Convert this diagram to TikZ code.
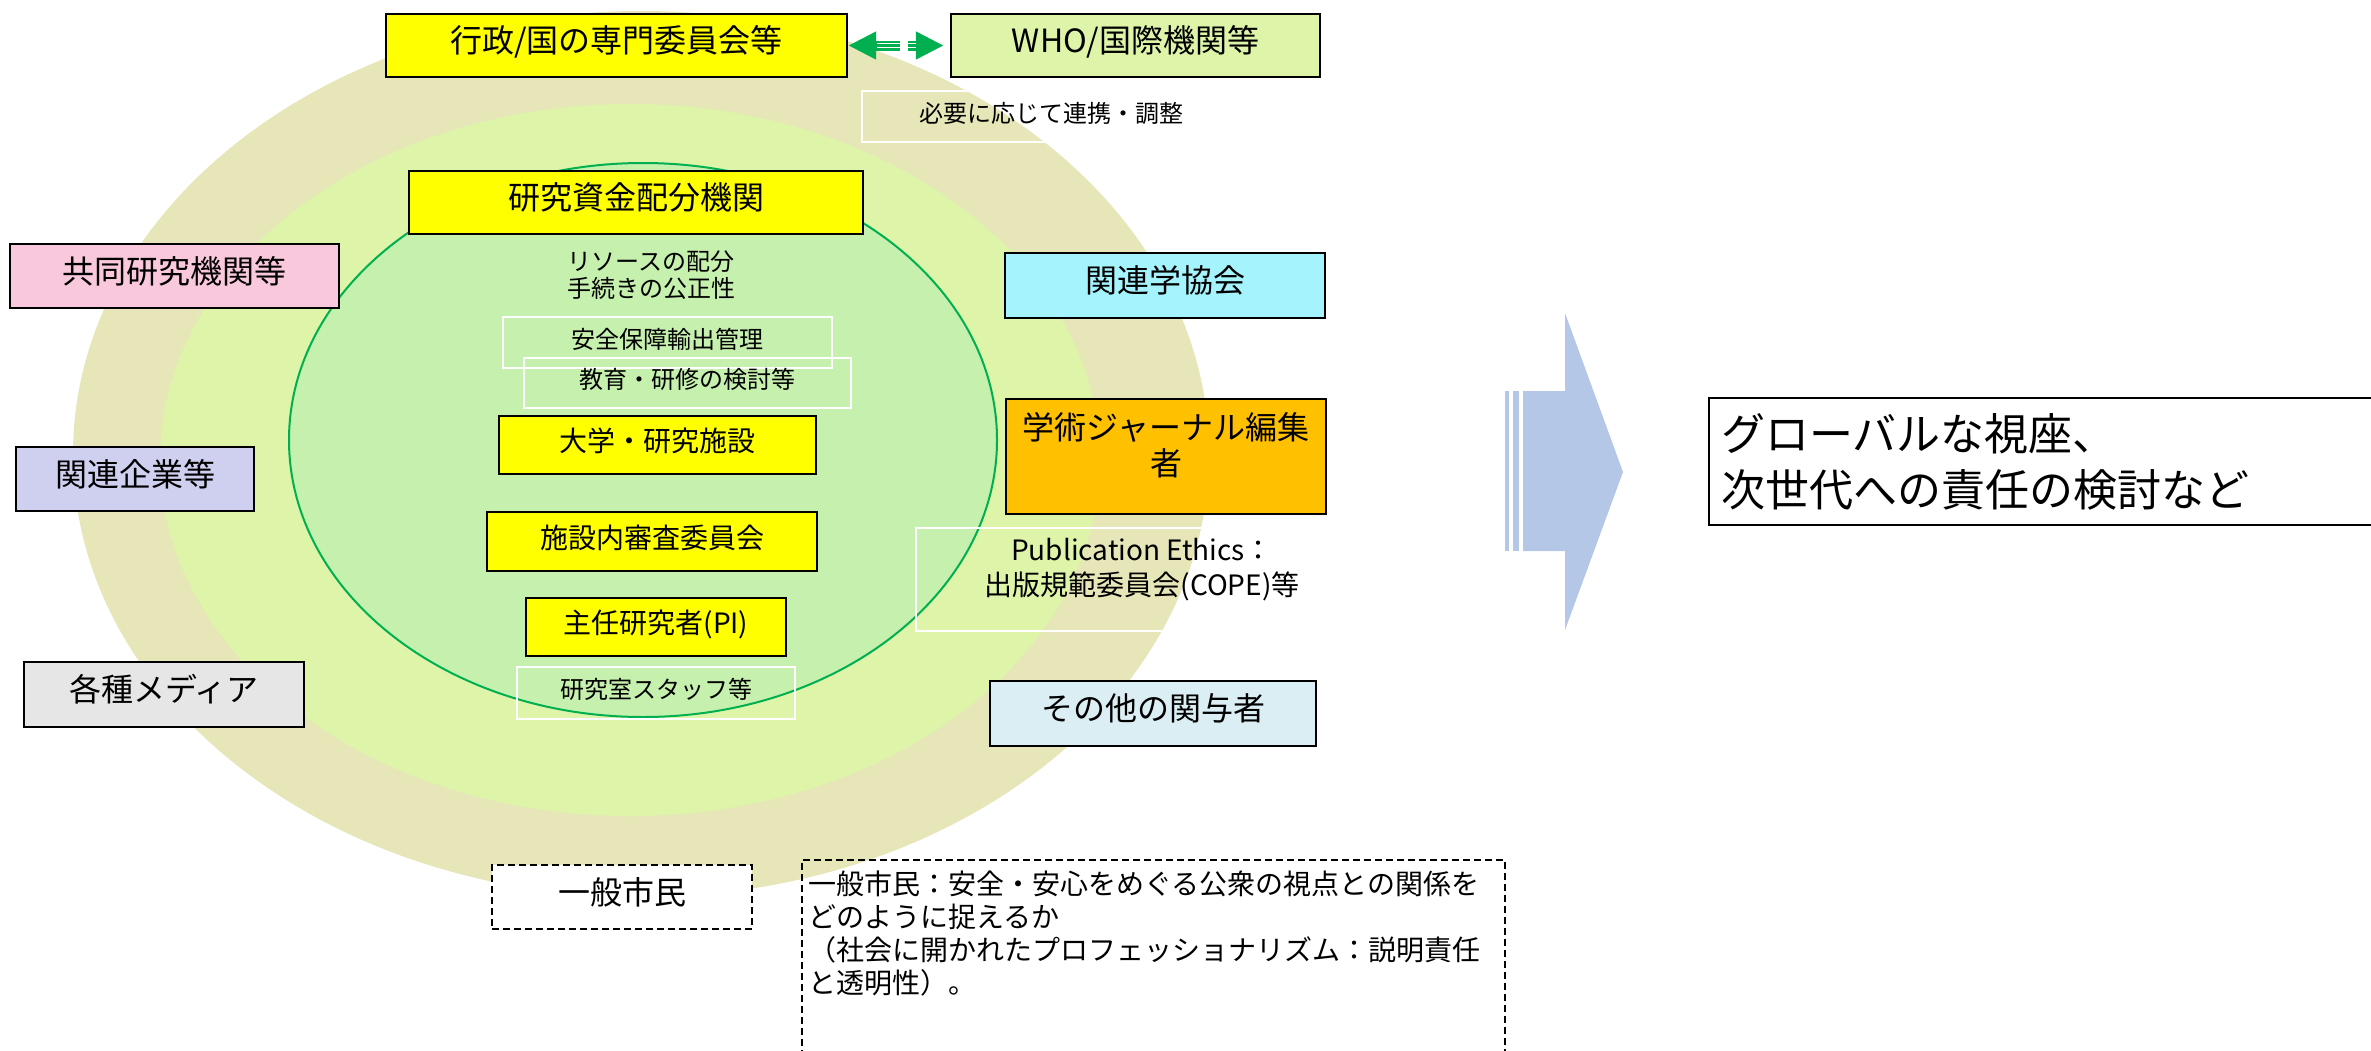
\documentclass[tikz,border=0pt]{standalone}
\usepackage{fontspec}
\setmainfont{Noto Sans CJK JP}
\usetikzlibrary{arrows.meta}
\definecolor{cKhaki}{HTML}{E6E6B9}
\definecolor{cMid}{HTML}{DDF4A9}
\definecolor{cInner}{HTML}{C6F0AE}
\definecolor{cGreen}{HTML}{00B050}
\definecolor{cYellow}{HTML}{FFFF00}
\definecolor{cWho}{HTML}{DDF4A9}
\definecolor{cPink}{HTML}{F9C8DC}
\definecolor{cLav}{HTML}{CFD0EF}
\definecolor{cGray}{HTML}{E6E6E6}
\definecolor{cCyan}{HTML}{A5F3FC}
\definecolor{cOrange}{HTML}{FFC000}
\definecolor{cPale}{HTML}{DBEEF3}
\definecolor{cArrow}{HTML}{B4C7E7}
\tikzset{
  box/.style={draw=black, line width=1.1pt, inner sep=0pt},
  wbox/.style={draw=white, line width=0.9pt, inner sep=0pt},
  dbox/.style={draw=black, line width=1pt, dash pattern=on 3.5pt off 2pt, inner sep=0pt},
  fA/.style={font=\fontsize{16pt}{19pt}\selectfont, text height=12pt, text depth=5pt},
  fB/.style={font=\fontsize{14pt}{17pt}\selectfont, text height=10.5pt, text depth=3.9pt},
  fC/.style={font=\fontsize{12pt}{14pt}\selectfont, text height=8.5pt, text depth=2.9pt},
  garrow/.style={draw=cGreen, line width=5pt, -{Triangle[length=14pt,width=13pt]}},
  gstripe/.style={draw=white, line width=0.6pt}
}
\begin{document}
\begin{tikzpicture}[x=0.5pt,y=-0.5pt]
\useasboundingbox (0,0) rectangle (2371,1050);
\clip (0,0) rectangle (2371,1050);

% concentric ellipses
\fill[cKhaki] (641,454) ellipse [x radius=284pt, y radius=221.5pt];
\fill[cMid] (630,460) ellipse [x radius=235pt, y radius=178pt];
\filldraw[fill=cInner, draw=cGreen, line width=1pt] (643,440) ellipse [x radius=177pt, y radius=138.5pt];

% top row
\node[box, fA, fill=cYellow, minimum width=230.5pt, minimum height=31.5pt] (gyosei) at (616.5,45.5) {行政/国の専門委員会等};
\node[box, fA, fill=cWho, minimum width=184.5pt, minimum height=31.5pt] (who) at (1135.5,45.5) {WHO/国際機関等};
\node[wbox, fC, minimum width=189pt, minimum height=25.5pt] (renkei) at (1051,116.5) {必要に応じて連携・調整};

% inner column
\node[box, fA, fill=cYellow, minimum width=227pt, minimum height=31.5pt] (shikin) at (636,202.5) {研究資金配分機関};
\node[inner sep=0pt, align=center, font=\fontsize{12pt}{13.5pt}\selectfont] (resource) at (651,275.5) {リソースの配分\\手続きの公正性};
\node[wbox, fC, minimum width=164.5pt, minimum height=25.5pt] (anzen) at (667.5,342.5) {安全保障輸出管理};
\node[wbox, fC, minimum width=163.5pt, minimum height=25pt] (kyoiku) at (687.5,383) {教育・研修の検討等};
\node[box, fB, fill=cYellow, minimum width=158.5pt, minimum height=29pt] (daigaku) at (657.5,445) {大学・研究施設};
\node[box, fB, fill=cYellow, minimum width=165pt, minimum height=29.5pt] (shinsa) at (652,541.5) {施設内審査委員会};
\node[box, fB, fill=cYellow, minimum width=130pt, minimum height=29pt] (pi) at (656,627) {主任研究者(PI)};
\node[wbox, fC, minimum width=139pt, minimum height=26pt] (staff) at (656,693) {研究室スタッフ等};

% left column
\node[box, fA, fill=cPink, minimum width=164.5pt, minimum height=32pt] (kyodo) at (174.5,276) {共同研究機関等};
\node[box, fA, fill=cLav, minimum width=119pt, minimum height=32pt] (kigyo) at (135,479) {関連企業等};
\node[box, fA, fill=cGray, minimum width=140pt, minimum height=32.5pt] (media) at (164,694.5) {各種メディア};

% right column
\node[box, fA, fill=cCyan, minimum width=160pt, minimum height=32.5pt] (gakkyo) at (1165,285.5) {関連学協会};
\node[box, fill=cOrange, minimum width=160pt, minimum height=57.5pt] (journal) at (1166,456.5) {};
\node[inner sep=0pt, align=center, font=\fontsize{16pt}{18pt}\selectfont] (journaltext) at (1166,445) {学術ジャーナル編集\\者};
\node[wbox, minimum width=226pt, minimum height=51.5pt] (cope) at (1142,579.5) {};
\node[inner sep=0pt, align=center, font=\fontsize{14pt}{17.5pt}\selectfont] (copetext) at (1142,569.5) {Publication Ethics：\\出版規範委員会(COPE)等};
\node[box, fA, fill=cPale, minimum width=163pt, minimum height=32.5pt] (sonota) at (1153,713.5) {その他の関与者};

% bottom
\node[dbox, fA, fill=white, minimum width=130pt, minimum height=32pt] (shimin) at (622,897) {一般市民};
\node[dbox, minimum width=351.5pt, minimum height=115pt, anchor=north west] (desc) at (801,859) {};
\node[anchor=north west, align=left, inner sep=0pt, font=\fontsize{14pt}{16.65pt}\selectfont] (desctext) at (808,870) {一般市民：安全・安心をめぐる公衆の視点との関係を\\どのように捉えるか\\（社会に開かれたプロフェッショナリズム：説明責任\\と透明性）。};

% green double arrow
\coordinate (gl) at (900,45.5);
\coordinate (gr) at (908,45.5);
\draw[garrow] (gl) -- (gyosei.east);
\draw[garrow, shorten >=3pt] (gr) -- (who.west);
\draw[gstripe, shorten >=14.5pt] ([yshift=-0.95pt]gl) -- ([yshift=-0.95pt]gyosei.east);
\draw[gstripe, shorten >=14.5pt] ([yshift=0.95pt]gl) -- ([yshift=0.95pt]gyosei.east);
\draw[gstripe, shorten >=17pt] ([yshift=-0.95pt]gr) -- ([yshift=-0.95pt]who.west);
\draw[gstripe, shorten >=17pt] ([yshift=0.95pt]gr) -- ([yshift=0.95pt]who.west);

% big arrow
\fill[cArrow] (1523,391) -- (1565,391) -- (1565,313) -- (1623,472) -- (1565,630) -- (1565,551) -- (1523,551) -- cycle;
\fill[cArrow] (1505,391) rectangle (1509,551);
\fill[cArrow] (1513,391) rectangle (1519,551);

% conclusion box
\node[draw=black, line width=1.1pt, anchor=west, text width=324pt, align=left, inner xsep=6pt, inner ysep=0pt, minimum height=63.5pt, font=\fontsize{22pt}{28pt}\selectfont] (global) at (1708,461.5) {グローバルな視座、\\次世代への責任の検討など};
\end{tikzpicture}
\end{document}
